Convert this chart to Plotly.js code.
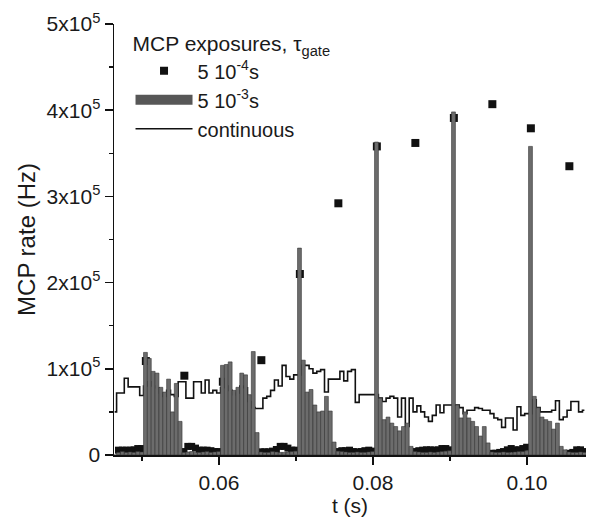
<!DOCTYPE html>
<html>
<head>
<meta charset="utf-8">
<script src="https://cdn.plot.ly/plotly-3.0.1.min.js"></script>
<style>html,body{margin:0;padding:0;background:#fff;}#chart{width:589px;height:520px;}</style>
</head>
<body>
<div id="chart"></div>
<script>
// Histogram bins: first bin centre and width (s)
const binStart = 0.04645;
const binWidth = 0.0005;

// 5 10^-3 s gate (gray histogram), Hz per bin
const gate3Rate = [
  0, 3000, 4000, 3000, 3500, 3000, 4000, 3500,
  119000, 112000, 97000, 95000, 78500, 73000, 88000, 50000, 83000, 39000,
  3000, 3500, 4000, 3000, 3000, 3500, 4000, 3000, 3500, 4000,
  104000, 105000, 108000, 75000, 78500, 95000, 93000, 70000, 120000, 26000,
  3500, 3000, 3000, 4000, 3500, 3000, 3000, 3500, 4000, 4500,
  240000,
  110000, 73000, 76000, 58000, 50000, 51000, 68000, 51000, 15000,
  4500, 4000, 3500, 3000, 3000, 3500, 3000, 3000, 3500, 4000,
  363000,
  66000, 41000, 44000, 37000, 33000, 28000, 33000, 37000, 10000,
  4000, 3500, 3000, 3000, 3500, 3000, 3500, 4000, 4500, 5000,
  398000,
  58000, 43000, 50000, 43000, 39000, 33000, 22000, 33000, 14000,
  3500, 3000, 3000, 3500, 3000, 3000, 3500, 4000, 4000, 5000,
  358000,
  68000, 55000, 44000, 41000, 39000, 30000, 37000, 10000, 6000,
  3500, 3000, 3000, 3500, 3000
];

// 5 10^-4 s gate: low-level points between bursts, Hz per bin (null = none)
const gate4Low = [
  null, 5600, 5600, 5600, 5600, 6000, 7500, 7500,
  null, null, null, null, null, null, null, null, null, null,
  4000, 10000, 10000, 8000, 5600, 5600, 5600, 5000, 4000, 4000,
  null, null, null, null, null, null, null, null, null, null,
  3700, 3700, 3700, 4500, 6400, 10000, 10000, 8000, 5600, 5600,
  null, null, null, null, null, null, null, null, null, null,
  4000, 5000, 5000, 5600, 4000, 3500, 4000, 5000, 5600, 4500,
  null, null, null, null, null, null, null, null, null, null,
  4000, 5000, 5600, 6000, 6000, 5600, 6000, 7500, 7500, 6000,
  null, null, null, null, null, null, null, null, null, null,
  2000, 2000, 3000, 4000, 6000, 7500, 6000, 6000, 7500, 9000,
  null, null, null, null, null, null, null, null, null, null,
  2000, 3000, 6000, 6000, 4000
];

// 5 10^-4 s gate: main exposures
const gate4Time = [0.0505, 0.0555, 0.0605, 0.0655, 0.0705, 0.0755, 0.0805, 0.0855, 0.0905, 0.0955, 0.1005, 0.1055];
const gate4Rate = [109000, 92000, 85000, 110000, 210000, 292000, 358000, 362000, 391000, 407000, 379000, 335000];

// continuous exposure, Hz per bin
const contRate = [
  50000, 72000, 72000, 89000, 79000, 79000, 79000, 69000,
  80000, 85000, 80000, 78000, 72000, 68000, 75000, 70000, 68000, 85000,
  85000, 66000, 66000, 85000, 85000, 72000, 87000, 72000, 75000, 72000,
  78000, 80000, 75000, 70000, 72000, 80000, 78000, 62000, 55000, 54000,
  54000, 66000, 68000, 75000, 87000, 80000, 104000, 91000, 88000, 93000,
  93000,
  104000, 104000, 100000, 95000, 97000, 99000, 73000, 88000, 88000,
  88000, 97000, 86000, 97000, 99000, 61000, 70000, 70000, 70000, 70000,
  70000,
  66000, 62000, 66000, 68000, 66000, 44000, 66000, 33000, 66000,
  50000, 57000, 50000, 44000, 39000, 46000, 58000, 49000, 58000, 58000,
  58000,
  58000, 55000, 48000, 52000, 52000, 55000, 54000, 52000, 52000,
  48000, 43000, 41000, 32000, 43000, 43000, 29000, 56000, 46000, 48000,
  48000,
  64000, 55000, 50000, 50000, 50000, 52000, 63000, 41000, 44000,
  52000, 62000, 62000, 50000, 52000
];

// axis ticks
const xTickVals = [0.06, 0.08, 0.10];
const xTickText = ['0.06', '0.08', '0.10'];
const yTickVals = [0, 100000, 200000, 300000, 400000, 500000];
const yTickText = ['0', '1x10<sup>5</sup>', '2x10<sup>5</sup>', '3x10<sup>5</sup>', '4x10<sup>5</sup>', '5x10<sup>5</sup>'];

const binTimes = gate3Rate.map((_, i) => +(binStart + i * binWidth).toFixed(5));
const lowT = [], lowR = [];
gate4Low.forEach((v, i) => { if (v !== null) { lowT.push(binTimes[i]); lowR.push(v); } });

const xRange = [0.046364, 0.10766];
const yRange = [0, 500000];
const barFill = '#6c6c6c';

const traces = [
  {
    type: 'scatter', mode: 'markers', name: '5 10<sup>-4</sup>s',
    x: gate4Time, y: gate4Rate, xaxis: 'x', yaxis: 'y',
    marker: {symbol: 'square', size: 8, color: '#111'}, legendgroup: 'g4'
  },
  {
    type: 'scatter', mode: 'markers', name: '5 10<sup>-4</sup>s low',
    x: lowT, y: lowR, xaxis: 'x', yaxis: 'y', showlegend: false,
    marker: {symbol: 'square', size: 7, color: '#111'}, legendgroup: 'g4'
  },
  {
    // legend key for the gray histogram (wide rectangle)
    type: 'scatter', mode: 'lines', name: '5 10<sup>-3</sup>s',
    x: [null], y: [null], xaxis: 'x', yaxis: 'y', legendgroup: 'g3',
    line: {color: '#575757', width: 17}
  },
  {
    type: 'scatter', mode: 'lines', name: 'continuous',
    x: binTimes, y: contRate, xaxis: 'x', yaxis: 'y',
    line: {shape: 'hvh', color: '#111', width: 1.6}
  },
  {
    type: 'bar', name: '5 10<sup>-3</sup>s', showlegend: false, legendgroup: 'g3',
    x: binTimes, y: gate3Rate, width: binWidth, xaxis: 'x2', yaxis: 'y2',
    marker: {color: barFill, line: {color: '#333', width: 0.6}}
  }
];

const axCommon = {
  showline: true, linecolor: '#111', linewidth: 1.5,
  ticks: 'outside', ticklen: 8, tickwidth: 1.5, tickcolor: '#111',
  tickfont: {size: 21, color: '#1a1a1a'},
  showgrid: false, zeroline: false, fixedrange: true
};

const layout = {
  width: 589, height: 520,
  margin: {l: 114, r: 3, t: 24, b: 65},
  paper_bgcolor: '#fff', plot_bgcolor: '#fff',
  font: {family: 'Liberation Sans, Arial, sans-serif', size: 21, color: '#1a1a1a'},
  bargap: 0,
  showlegend: true,
  xaxis: Object.assign({}, axCommon, {
    range: xRange, tickmode: 'array', tickvals: xTickVals, ticktext: xTickText,
    minor: {tick0: 0.05, dtick: 0.01, ticks: 'outside', ticklen: 4, tickwidth: 1.5, tickcolor: '#111'},
    title: {text: 't (s)', standoff: 4, font: {size: 21}}
  }),
  yaxis: Object.assign({}, axCommon, {
    range: yRange, tickmode: 'array', tickvals: yTickVals, ticktext: yTickText,
    minor: {tick0: 0, dtick: 50000, ticks: 'outside', ticklen: 4, tickwidth: 1.5, tickcolor: '#111'},
    title: {text: 'MCP rate (Hz)', standoff: 4, font: {size: 24}}
  }),
  xaxis2: {overlaying: 'x', range: xRange, visible: false, fixedrange: true},
  yaxis2: {overlaying: 'y', range: yRange, visible: false, fixedrange: true},
  legend: {
    x: 0.035, y: 1.0, xanchor: 'left', yanchor: 'top',
    bgcolor: 'rgba(0,0,0,0)', borderwidth: 0,
    font: {size: 20}, itemwidth: 57, tracegroupgap: 0,
    title: {text: 'MCP exposures, τ<sub>gate</sub>', font: {size: 21}}
  }
};

Plotly.newPlot('chart', traces, layout, {staticPlot: true, displayModeBar: false});
</script>
</body>
</html>
